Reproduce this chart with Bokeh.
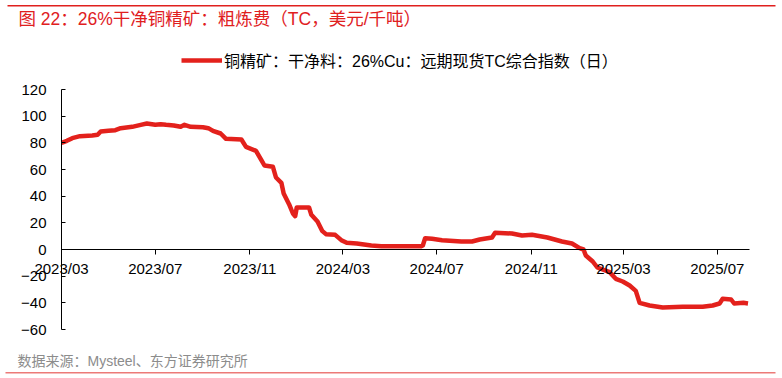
import pandas as pd
from bokeh.plotting import figure
from bokeh.models import (Range1d, FixedTicker, DatetimeTickFormatter, Label,
                          BoxAnnotation, Legend, LegendItem, ColumnDataSource)
from bokeh.embed import file_html
from bokeh.resources import INLINE

# ---- data ----
dates = [
    "2023-03-01", "2023-03-08", "2023-03-15", "2023-03-25", "2023-04-10", "2023-04-17",
    "2023-04-21", "2023-05-01", "2023-05-10", "2023-05-17", "2023-06-01", "2023-06-12",
    "2023-06-20", "2023-07-01", "2023-07-08", "2023-07-15", "2023-07-25", "2023-08-03",
    "2023-08-08", "2023-08-16", "2023-09-01", "2023-09-08", "2023-09-14", "2023-09-24",
    "2023-10-01", "2023-10-21", "2023-10-27", "2023-11-09", "2023-11-16", "2023-11-20",
    "2023-12-01", "2023-12-05", "2023-12-12", "2023-12-15", "2023-12-22", "2023-12-27",
    "2023-12-30", "2024-01-01", "2024-01-17", "2024-01-20", "2024-01-28", "2024-02-03",
    "2024-02-08", "2024-02-20", "2024-02-28", "2024-03-06", "2024-03-19", "2024-04-07",
    "2024-04-20", "2024-05-16", "2024-06-11", "2024-06-13", "2024-06-16", "2024-06-25",
    "2024-07-08", "2024-08-02", "2024-08-16", "2024-08-26", "2024-09-11", "2024-09-15",
    "2024-10-07", "2024-10-20", "2024-11-02", "2024-11-22", "2024-12-11", "2024-12-24",
    "2025-01-03", "2025-01-08", "2025-01-11", "2025-01-20", "2025-01-26", "2025-02-11",
    "2025-02-19", "2025-02-28", "2025-03-09", "2025-03-17", "2025-03-22", "2025-04-04",
    "2025-04-21", "2025-05-17", "2025-06-12", "2025-06-25", "2025-07-04", "2025-07-08",
    "2025-07-19", "2025-07-23", "2025-08-04", "2025-08-10",
]
tc_values = [
    80, 81.5, 83.5, 85, 85.5, 86,
    88.5, 89, 89.5, 91, 92, 93.5,
    94.5, 93.5, 94, 93.5, 93, 92,
    93.5, 92, 91.7, 91, 89, 87,
    83, 82.5, 77, 74, 67, 63,
    62, 54, 50, 42, 34, 27,
    25, 31.5, 31.5, 26, 21, 14,
    11.5, 11, 7, 5, 4.5, 3,
    2.5, 2.5, 2.5, 3, 8.5, 8,
    7, 6, 6, 7.5, 9, 12.5,
    12, 10.5, 11, 9, 6, 4.5,
    1, 0, -4.5, -9, -13.5, -17,
    -22, -24, -27, -31, -40, -42,
    -43.5, -43, -43, -42, -40.5, -37,
    -37.5, -40.5, -40, -40.5,
]
x_tick_dates = ["2023-03-01", "2023-07-01", "2023-11-01", "2024-03-01",
                "2024-07-01", "2024-11-01", "2025-03-01", "2025-07-01"]
y_ticks = [-60, -40, -20, 0, 20, 40, 60, 80, 100, 120]

title_text = "图 22：26%干净铜精矿：粗炼费（TC，美元/千吨）"
legend_text = "铜精矿：干净料：26%Cu：远期现货TC综合指数（日）"
source_text = "数据来源：Mysteel、东方证券研究所"

RED = "#e3211c"
FONT = "Liberation Sans, Noto Sans CJK SC"
W, H = 782, 378

# ---- layout geometry: the frame covers the whole canvas ----
AX_LEFT, AX_RIGHT = 61, 749          # canvas x of axis start / end
AX_TOP, AX_BOTTOM = 89, 329          # canvas y of 120 / -60
PX_PER_DAY = (716 - 61) / 852.0
PX_PER_UNIT = (AX_BOTTOM - AX_TOP) / 180.0
base = pd.Timestamp(x_tick_dates[0])
x_start = base - pd.Timedelta(days=AX_LEFT / PX_PER_DAY)
x_end = base + pd.Timedelta(days=(W - AX_LEFT) / PX_PER_DAY)
x_axis_end = base + pd.Timedelta(days=(AX_RIGHT - AX_LEFT) / PX_PER_DAY)
y_lo = y_ticks[0] - (H - AX_BOTTOM) / PX_PER_UNIT
y_hi = y_ticks[-1] + AX_TOP / PX_PER_UNIT


def ms(t):
    return pd.Timestamp(t).timestamp() * 1000


src = ColumnDataSource(dict(date=pd.to_datetime(dates), tc=tc_values))

p = figure(width=W, height=H, output_backend="svg", toolbar_location=None,
           x_axis_type="datetime",
           x_range=Range1d(x_start, x_end), y_range=Range1d(y_lo, y_hi),
           min_border=0)
p.outline_line_color = None
p.grid.visible = False
p.background_fill_color = "white"
p.border_fill_color = "white"

r = p.line(x="date", y="tc", source=src, line_color=RED, line_width=4.5, line_join="round")

# x axis sits on y = 0
xa = p.xaxis[0]
xa.fixed_location = 0
xa.bounds = (ms(base), ms(x_axis_end))
xa.ticker = FixedTicker(ticks=[ms(d) for d in x_tick_dates])
fmt = "%Y/%m"
xa.formatter = DatetimeTickFormatter(years=fmt, months=fmt, days=fmt, hours=fmt,
                                     hourmin=fmt, minutes=fmt, minsec=fmt, seconds=fmt,
                                     milliseconds=fmt, microseconds=fmt)
xa.major_tick_in = 0
xa.major_tick_out = 5
xa.minor_tick_line_color = None
xa.major_label_standoff = 5
xa.major_label_text_font = FONT
xa.major_label_text_font_size = "15px"
xa.major_label_text_color = "black"
xa.axis_line_color = "black"
xa.major_tick_line_color = "black"

ya = p.yaxis[0]
ya.fixed_location = ms(base)
ya.bounds = (y_ticks[0], y_ticks[-1])
ya.ticker = FixedTicker(ticks=y_ticks)
ya.major_tick_in = 4
ya.major_tick_out = 0
ya.minor_tick_line_color = None
ya.major_label_standoff = 15
ya.major_label_text_font = FONT
ya.major_label_text_font_size = "15px"
ya.major_label_text_color = "black"
ya.axis_line_color = "black"
ya.major_tick_line_color = "black"

legend = Legend(items=[LegendItem(label=legend_text, renderers=[r])],
                location=(181, H - 72), orientation="horizontal",
                glyph_width=41, glyph_height=20, label_height=20, label_standoff=2,
                padding=0, margin=0, border_line_color=None, background_fill_alpha=0,
                label_text_font=FONT, label_text_font_size="16px", label_text_color="black",
                label_text_baseline="middle")
p.add_layout(legend, "center")

# title, source and decorative rules (screen units; frame == canvas)
p.add_layout(Label(x=18, y=H - 18.5, x_units="screen", y_units="screen", text=title_text,
                   text_font=FONT, text_font_size="17.5px", text_color="#e0201e",
                   text_baseline="middle", text_align="left"))
p.add_layout(Label(x=17, y=H - 360, x_units="screen", y_units="screen", text=source_text,
                   text_font=FONT, text_font_size="14px", text_color="#8c8c8c",
                   text_baseline="middle", text_align="left"))
p.add_layout(BoxAnnotation(left=7, right=775, bottom=H - 6, top=H - 4.5,
                           left_units="screen", right_units="screen",
                           bottom_units="screen", top_units="screen",
                           fill_color="#e0201e", fill_alpha=1, line_color=None))
p.add_layout(BoxAnnotation(left=5, right=775, bottom=H - 373, top=H - 371.5,
                           left_units="screen", right_units="screen",
                           bottom_units="screen", top_units="screen",
                           fill_color="#ec7a78", fill_alpha=1, line_color=None))

open("out.html", "w").write(file_html(p, INLINE))
